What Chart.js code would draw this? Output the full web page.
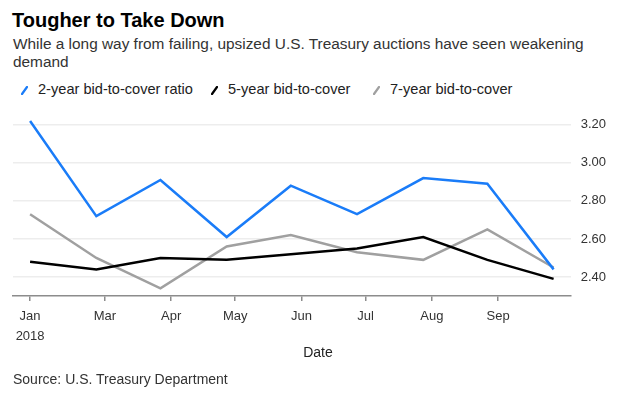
<!DOCTYPE html>
<html>
<head>
<meta charset="utf-8">
<script src="https://cdn.jsdelivr.net/npm/chart.js@4/dist/chart.umd.min.js"></script>
<style>
  html, body { margin: 0; padding: 0; background: #fff; width: 620px; height: 396px; overflow: hidden; }
  body { font-family: "Liberation Sans", Arial, Helvetica, sans-serif; position: relative; }
  .abs { position: absolute; white-space: nowrap; }
  #title { left: 12px; top: 9px; font-size: 20px; font-weight: bold; color: #000; }
  #subtitle { left: 13px; top: 35px; font-size: 15.4px; line-height: 17.5px; color: #333; white-space: normal; width: 607px; }
  .leg { top: 80px; font-size: 14.6px; color: #222; line-height: 18px; }
  .leg svg { vertical-align: -1px; margin-right: 10px; }
  #xtitle { left: 318px; top: 344px; transform: translateX(-50%); font-size: 14px; color: #222; }
  #source { left: 13px; top: 371px; font-size: 14px; color: #333; }
  #wrap { position: absolute; left: 0; top: 87.5px; width: 620px; height: 264px; }
</style>
</head>
<body>
<div id="title" class="abs">Tougher to Take Down</div>
<div id="subtitle" class="abs">While a long way from failing, upsized U.S. Treasury auctions have seen weakening demand</div>
<div class="abs leg" style="left:21px"><svg width="7" height="9"><line x1="1" y1="8" x2="6" y2="1" stroke="#1a7cf8" stroke-width="2.2" stroke-linecap="round"/></svg>2-year bid-to-cover ratio</div>
<div class="abs leg" style="left:211px"><svg width="7" height="9"><line x1="1" y1="8" x2="6" y2="1" stroke="#000" stroke-width="2.2" stroke-linecap="round"/></svg>5-year bid-to-cover</div>
<div class="abs leg" style="left:373px"><svg width="7" height="9"><line x1="1" y1="8" x2="6" y2="1" stroke="#a0a0a0" stroke-width="2.2" stroke-linecap="round"/></svg>7-year bid-to-cover</div>
<div id="wrap"><canvas id="c" width="620" height="264"></canvas></div>
<div id="xtitle" class="abs">Date</div>
<div id="source" class="abs">Source: U.S. Treasury Department</div>
<script>
// ---- data ----
const auctionDates = ['2018-01-25','2018-02-25','2018-03-27','2018-04-27','2018-05-27','2018-06-27','2018-07-28','2018-08-27','2018-09-27'];
const twoYear   = [3.22, 2.72, 2.91, 2.61, 2.88, 2.73, 2.92, 2.89, 2.44];
const fiveYear  = [2.48, 2.44, 2.50, 2.49, 2.52, 2.55, 2.61, 2.49, 2.39];
const sevenYear = [2.73, 2.50, 2.34, 2.56, 2.62, 2.53, 2.49, 2.65, 2.45];
const seriesNames = ['2-year bid-to-cover ratio', '5-year bid-to-cover', '7-year bid-to-cover'];
const xTickDates  = ['2018-01-25','2018-03-01','2018-04-01','2018-05-01','2018-06-01','2018-07-01','2018-08-01','2018-09-01'];
const xTickLabels = [['Jan','2018'], 'Mar', 'Apr', 'May', 'Jun', 'Jul', 'Aug', 'Sep'];
const yTicks = [2.40, 2.60, 2.80, 3.00, 3.20];
const xRange = ['2018-01-17', '2018-10-05'];
const yRange = [2.30, 3.30];

function dayNum(s) {
  const p = s.split('-').map(Number);
  return (Date.UTC(p[0], p[1] - 1, p[2]) - Date.UTC(2018, 0, 1)) / 86400000;
}
function pts(vals) { return vals.map((v, i) => ({ x: dayNum(auctionDates[i]), y: v })); }

const FONT = '"Liberation Sans", Arial, Helvetica, sans-serif';
const colors = ['#1a7cf8', '#000000', '#a0a0a0'];
const seriesVals = [twoYear, fiveYear, sevenYear];

new Chart(document.getElementById('c'), {
  type: 'line',
  data: {
    datasets: seriesVals.map((vals, i) => ({
      label: seriesNames[i],
      data: pts(vals),
      borderColor: colors[i],
      backgroundColor: colors[i],
      borderWidth: 2.5,
      pointRadius: 0,
      tension: 0,
      fill: false,
      borderJoinStyle: 'miter'
    }))
  },
  options: {
    responsive: false,
    animation: false,
    devicePixelRatio: 1,
    layout: { padding: { left: 13, right: 4, top: 3.5, bottom: 0 } },
    plugins: { legend: { display: false }, tooltip: { enabled: false } },
    scales: {
      x: {
        type: 'linear',
        min: dayNum(xRange[0]),
        max: dayNum(xRange[1]),
        afterBuildTicks: (axis) => { axis.ticks = xTickDates.map(d => ({ value: dayNum(d) })); },
        ticks: {
          autoSkip: false,
          maxRotation: 0,
          padding: 6,
          color: '#333',
          font: { family: FONT, size: 13, lineHeight: 1.5 },
          callback: (v, i) => xTickLabels[i]
        },
        grid: { drawOnChartArea: false, drawTicks: true, tickLength: 5, tickColor: '#8c8c8c', lineWidth: 1.5 },
        border: { display: true, color: '#8c8c8c', width: 1.5 }
      },
      y: {
        position: 'right',
        min: yRange[0],
        max: yRange[1],
        afterBuildTicks: (axis) => { axis.ticks = yTicks.map(v => ({ value: v })); },
        ticks: {
          padding: 10,
          color: '#333',
          font: { family: FONT, size: 13 },
          callback: (v) => Number(v).toFixed(2)
        },
        grid: { drawTicks: false, color: '#ededed', lineWidth: 1.5 },
        border: { display: false }
      }
    }
  }
});
</script>
</body>
</html>
